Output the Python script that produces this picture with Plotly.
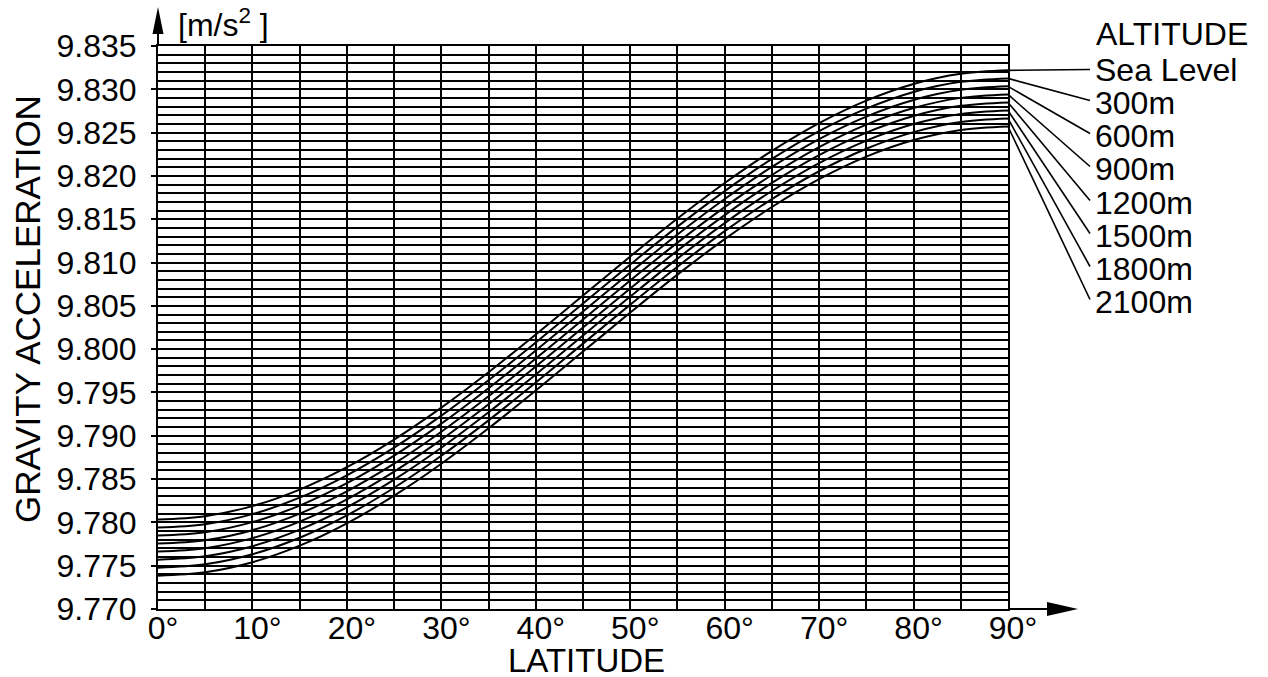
import plotly.graph_objects as go

# ---------------- data ----------------
LATITUDE = [0, 5, 10, 15, 20, 25, 30, 35, 40, 45, 50, 55, 60, 65, 70, 75, 80, 85, 90]

ALTITUDE_LABELS = ["Sea Level", "300m", "600m", "900m", "1200m", "1500m", "1800m", "2100m"]

G_SEA_LEVEL = [9.78033, 9.78072, 9.78188, 9.78379, 9.78637, 9.78956, 9.79325, 9.79734, 9.80170, 9.80620,
               9.81070, 9.81508, 9.81918, 9.82289, 9.82610, 9.82870, 9.83062, 9.83179, 9.83219]
G_300M = [9.77940, 9.77979, 9.78095, 9.78286, 9.78544, 9.78863, 9.79232, 9.79641, 9.80077, 9.80527,
          9.80977, 9.81415, 9.81825, 9.82196, 9.82517, 9.82777, 9.82969, 9.83086, 9.83126]
G_600M = [9.77848, 9.77887, 9.78003, 9.78194, 9.78452, 9.78771, 9.79140, 9.79549, 9.79985, 9.80435,
          9.80885, 9.81323, 9.81733, 9.82104, 9.82425, 9.82685, 9.82877, 9.82994, 9.83034]
G_900M = [9.77755, 9.77794, 9.77910, 9.78101, 9.78359, 9.78678, 9.79047, 9.79456, 9.79892, 9.80342,
          9.80792, 9.81230, 9.81640, 9.82011, 9.82332, 9.82592, 9.82784, 9.82901, 9.82941]
G_1200M = [9.77663, 9.77702, 9.77818, 9.78009, 9.78267, 9.78586, 9.78955, 9.79364, 9.79800, 9.80250,
           9.80700, 9.81138, 9.81548, 9.81919, 9.82240, 9.82500, 9.82692, 9.82809, 9.82849]
G_1500M = [9.77570, 9.77609, 9.77725, 9.77916, 9.78174, 9.78493, 9.78862, 9.79271, 9.79707, 9.80157,
           9.80607, 9.81045, 9.81455, 9.81826, 9.82147, 9.82407, 9.82599, 9.82716, 9.82756]
G_1800M = [9.77477, 9.77516, 9.77632, 9.77823, 9.78081, 9.78400, 9.78769, 9.79178, 9.79614, 9.80064,
           9.80514, 9.80952, 9.81362, 9.81733, 9.82054, 9.82314, 9.82506, 9.82623, 9.82663]
G_2100M = [9.77385, 9.77424, 9.77540, 9.77731, 9.77989, 9.78308, 9.78677, 9.79086, 9.79522, 9.79972,
           9.80422, 9.80860, 9.81270, 9.81641, 9.81962, 9.82222, 9.82414, 9.82531, 9.82571]

SERIES = [G_SEA_LEVEL, G_300M, G_600M, G_900M, G_1200M, G_1500M, G_1800M, G_2100M]

LAT_TICKS = [0, 10, 20, 30, 40, 50, 60, 70, 80, 90]
LAT_TICK_TEXT = ["0°", "10°", "20°", "30°", "40°", "50°", "60°", "70°", "80°", "90°"]

Y_MIN, Y_MAX = 9.770, 9.835

# ---------------- layout geometry (pixels) ----------------
W, H = 1268, 677
L, R, T, B = 158, 260, 46, 68
PW, PH = W - L - R, H - T - B
FONT = "Liberation Sans, Arial, Helvetica, sans-serif"
BLACK = "#000000"


def px_x(p):  # pixel x -> paper x
    return (p - L) / PW


def px_y(p):  # pixel y -> paper y
    return (H - B - p) / PH


def px_to_val(p):  # pixel y -> data y
    return Y_MIN + (H - B - p) / PH * (Y_MAX - Y_MIN)


LABEL_Y_PX = [69.5, 103, 136, 169, 203, 236, 269, 302]

fig = go.Figure()
for name, vals in zip(ALTITUDE_LABELS, SERIES):
    fig.add_trace(go.Scatter(
        x=LATITUDE, y=vals, name=name, mode="lines",
        line=dict(color=BLACK, width=2, shape="spline", smoothing=1.0),
        showlegend=False, hoverinfo="x+y+name",
    ))

shapes = []
annotations = []

# leader lines and altitude labels
for name, vals, ly in zip(ALTITUDE_LABELS, SERIES, LABEL_Y_PX):
    end_y = ly if name == "Sea Level" else ly - 2.5
    shapes.append(dict(type="line", xref="paper", yref="y",
                       x0=1.0, y0=vals[-1], x1=px_x(1090), y1=px_to_val(end_y),
                       line=dict(color=BLACK, width=1.6)))
    annotations.append(dict(text=name, xref="paper", yref="paper",
                            x=px_x(1093), y=px_y(ly), xanchor="left", yanchor="middle",
                            showarrow=False, font=dict(family=FONT, size=32, color=BLACK)))

annotations.append(dict(text="ALTITUDE", xref="paper", yref="paper",
                        x=px_x(1094), y=px_y(34), xanchor="left", yanchor="middle",
                        showarrow=False, font=dict(family=FONT, size=32, color=BLACK)))

# unit label
annotations.append(dict(text="[m/s<sup>2</sup> ]", xref="paper", yref="paper",
                        x=px_x(176), y=px_y(23), xanchor="left", yanchor="middle",
                        showarrow=False, font=dict(family=FONT, size=32, color=BLACK)))

# axis titles
annotations.append(dict(text="GRAVITY ACCELERATION", xref="paper", yref="paper",
                        x=px_x(27), y=px_y(309), xanchor="center", yanchor="middle",
                        textangle=-90, showarrow=False,
                        font=dict(family=FONT, size=35, color=BLACK)))
annotations.append(dict(text="LATITUDE", xref="paper", yref="paper",
                        x=px_x(586), y=px_y(660), xanchor="center", yanchor="middle",
                        showarrow=False, font=dict(family=FONT, size=33, color=BLACK)))

# y-axis arrow
shapes.append(dict(type="line", xref="paper", yref="paper",
                   x0=0, y0=1, x1=0, y1=px_y(25), line=dict(color=BLACK, width=2)))
shapes.append(dict(type="path", xref="paper", yref="paper",
                   path=f"M {px_x(L)},{px_y(7)} L {px_x(L - 5.5)},{px_y(34)} L {px_x(L + 5.5)},{px_y(34)} Z",
                   fillcolor=BLACK, line=dict(color=BLACK, width=0)))
# x-axis arrow
shapes.append(dict(type="line", xref="paper", yref="paper",
                   x0=1, y0=0, x1=px_x(1050), y1=0, line=dict(color=BLACK, width=2)))
shapes.append(dict(type="path", xref="paper", yref="paper",
                   path=f"M {px_x(1078)},{px_y(H - B)} L {px_x(1047)},{px_y(H - B - 7)} L {px_x(1047)},{px_y(H - B + 7)} Z",
                   fillcolor=BLACK, line=dict(color=BLACK, width=0)))

fig.update_layout(
    width=W, height=H,
    margin=dict(l=L, r=R, t=T, b=B, pad=0),
    paper_bgcolor="white", plot_bgcolor="white",
    font=dict(family=FONT, color=BLACK),
    shapes=shapes, annotations=annotations,
    showlegend=False,
)

fig.update_xaxes(
    range=[0, 90], tickmode="array", tickvals=LAT_TICKS, ticktext=LAT_TICK_TEXT,
    tickfont=dict(family=FONT, size=32, color=BLACK), ticklabelshift=5, ticklabelstandoff=-10,
    showgrid=True, gridcolor=BLACK, gridwidth=2,
    minor=dict(dtick=5, tick0=0, showgrid=True, gridcolor=BLACK, gridwidth=2),
    showline=True, linecolor=BLACK, linewidth=2, mirror=True,
    ticks="", zeroline=False, fixedrange=True,
)
fig.update_yaxes(
    range=[Y_MIN, Y_MAX], tick0=Y_MIN, dtick=0.005, tickformat=".3f",
    tickfont=dict(family=FONT, size=32, color=BLACK),
    ticks="outside", ticklen=5, tickwidth=2, tickcolor=BLACK, ticklabelstandoff=8,
    showgrid=True, gridcolor=BLACK, gridwidth=2,
    minor=dict(dtick=0.001, tick0=Y_MIN, showgrid=True, gridcolor=BLACK, gridwidth=2),
    showline=True, linecolor=BLACK, linewidth=2, mirror=True,
    zeroline=False, fixedrange=True,
)

fig.write_html(
    "out.html",
    config={"displayModeBar": False},
    post_script="document.body.style.margin='0';document.body.style.overflow='hidden';",
)
